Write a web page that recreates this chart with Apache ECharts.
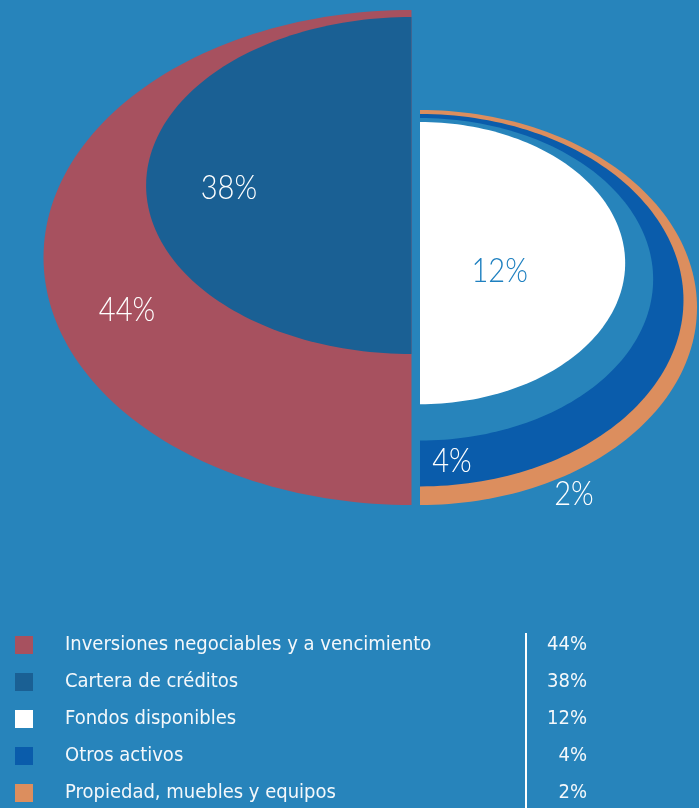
<!DOCTYPE html>
<html>
<head>
<meta charset="utf-8">
<script src="https://cdn.jsdelivr.net/npm/echarts@6/dist/echarts.min.js"></script>
<style>
  html, body { margin: 0; padding: 0; background: #2784bb; }
  #chart { width: 699px; height: 808px; }
</style>
</head>
<body>
<div id="chart"></div>
<script>
const categories = [
  'Inversiones negociables y a vencimiento',
  'Cartera de créditos',
  'Fondos disponibles',
  'Otros activos',
  'Propiedad, muebles y equipos'
]
const shares = [44, 38, 12, 4, 2]
const shareLabels = ['44%', '38%', '12%', '4%', '2%']
const palette = ['#a7515f', '#1a6094', '#ffffff', '#0a5cab', '#dc8e5e']
// slices per half, outer ring first
const leftHalf = [0, 1]
const rightHalf = [4, 3, 2]

const BG = '#2784bb'
const FONT = "'Liberation Sans Narrow', 'DejaVu Sans Condensed', sans-serif"
const LABEL_FONT = "300 33px Lato, 'Open Sans', sans-serif"

// layout of the two half-ellipses (axis units == px on this grid)
const halves = [
  { order: leftHalf, dir: -1, x0: 0, rx: 368, ry: 247.5, pad: 7, inset: false },
  { order: rightHalf, dir: 1, x0: 8.5, rx: 277, ry: 197.5, pad: 4, inset: true }
]
const baseY = 505
// where each label sits, as a fraction of its ellipse radii
const labelAt = [[0.773, 0.212], [0.688, 0.015], [0.388, 0.056], [0.121, 0.864], [0.556, 0.944]]
const labelColor = ['#fff', '#fff', '#1f80c0', '#fff', '#fff']

// ring size from the cumulative share (roughly area proportional)
const shapes = []
halves.forEach(h => {
  const total = h.order.reduce((s, i) => s + shares[i], 0)
  let remaining = total
  let top = 0
  h.order.forEach((i, k) => {
    const f = remaining / total
    const rx = h.rx * Math.pow(f, 0.425), ry = h.ry * Math.pow(f, 0.5)
    top = k === 0 ? baseY - 2 * ry : top + h.pad
    const s = { dir: h.dir, cx: h.x0, cy: top + ry, rx, ry, depth: k }
    if (h.inset && k === h.order.length - 1) {
      const fry = ry * 0.875
      s.fill = { dir: h.dir, cx: h.x0, cy: top + 4 + fry, rx: rx * 0.88, ry: fry }
    }
    shapes[i] = s
    remaining -= shares[i]
  })
})

function halfEllipse(api, e) {
  const pts = []
  for (let k = 0; k <= 120; k++) {
    const t = -Math.PI / 2 + Math.PI * k / 120
    pts.push(api.coord([e.cx + e.dir * e.rx * Math.cos(t), e.cy + e.ry * Math.sin(t)]))
  }
  return pts
}

function renderSlice(i) {
  return function (params, api) {
    const s = shapes[i]
    const children = []
    const body = s.fill || s
    if (s.fill) {
      children.push({ type: 'polygon', shape: { points: halfEllipse(api, s) }, style: { fill: BG } })
    }
    children.push({ type: 'polygon', shape: { points: halfEllipse(api, body) }, style: { fill: api.visual('color') } })
    const p = api.coord([body.cx + body.dir * labelAt[i][0] * body.rx, body.cy + labelAt[i][1] * body.ry])
    children.push({
      type: 'text', x: p[0], y: p[1], z2: 10, scaleX: 0.88,
      style: {
        text: shareLabels[i], fill: labelColor[i], font: LABEL_FONT,
        align: 'center', verticalAlign: 'middle'
      }
    })
    return { type: 'group', children }
  }
}

const chart = echarts.init(document.getElementById('chart'))
chart.setOption({
  backgroundColor: BG,
  animation: false,
  grid: { left: 0, top: 0, width: 699, height: 808 },
  xAxis: { type: 'value', min: -411.5, max: 287.5, show: false },
  yAxis: { type: 'value', min: 0, max: 808, inverse: true, show: false },
  legend: {
    orient: 'vertical', left: 15, top: 635, padding: 0,
    itemWidth: 18, itemHeight: 18, itemGap: 17, icon: 'rect',
    selectedMode: false,
    data: categories,
    formatter: name => '{n|' + name + '}{v|' + shareLabels[categories.indexOf(name)] + '}',
    textStyle: {
      rich: {
        n: { width: 462, padding: [0, 0, 0, 27], fontFamily: FONT, fontSize: 20, color: '#f4f8fb', lineHeight: 21 },
        v: { width: 60, align: 'right', fontFamily: FONT, fontSize: 20, color: '#f4f8fb', lineHeight: 21 }
      }
    }
  },
  graphic: [
    { type: 'rect', left: 525, top: 633, shape: { width: 2, height: 175 }, style: { fill: '#fff' } }
  ],
  series: categories.map((name, i) => ({
    type: 'custom',
    name,
    z: 2 + shapes[i].depth,
    silent: true,
    itemStyle: { color: palette[i] },
    data: [shares[i]],
    renderItem: renderSlice(i)
  }))
})
window.addEventListener('resize', () => chart.resize())
</script>
</body>
</html>
